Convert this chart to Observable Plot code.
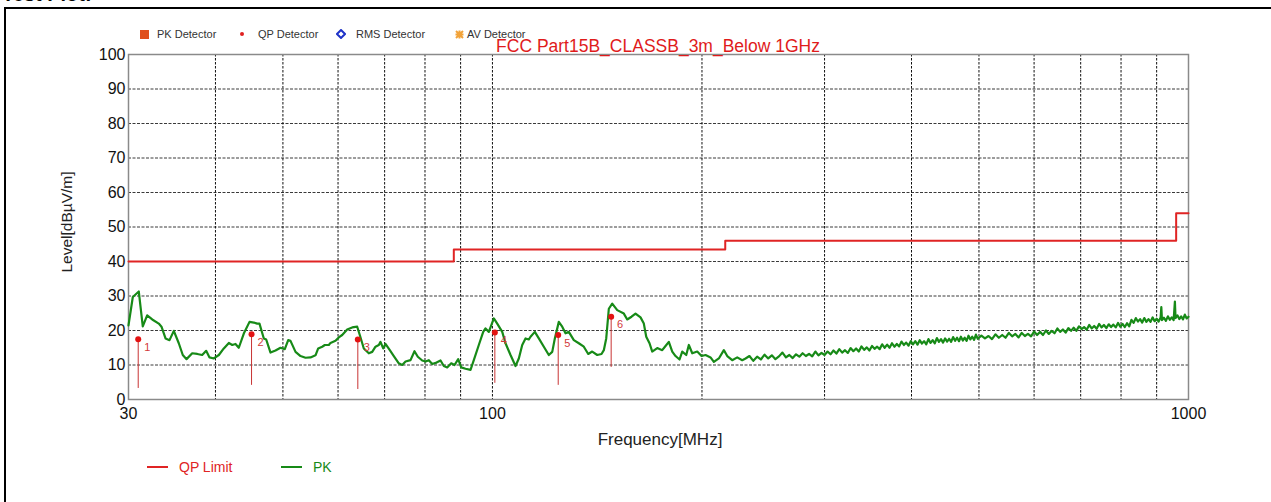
<!DOCTYPE html>
<html>
<head>
<meta charset="utf-8">
<script src="https://cdn.jsdelivr.net/npm/d3@7"></script>
<script src="https://cdn.jsdelivr.net/npm/@observablehq/plot@0.6"></script>
<style>
  html, body { margin: 0; padding: 0; background: #fff; }
  body { font-family: "Liberation Sans", Arial, sans-serif; }
  #wrap { position: relative; width: 1271px; height: 502px; overflow: hidden; }
  #frame { position: absolute; left: 4px; top: 7px; width: 1280px; height: 520px; border: 2px solid #000; box-sizing: border-box; }
  #testplot { position: absolute; left: 2px; top: -17px; font-size: 20px; font-weight: bold; color: #000; }
  #chart { position: absolute; left: 0; top: 0; }
  .ov { position: absolute; white-space: nowrap; }
  .leg { position: absolute; top: 27px; height: 14px; font-size: 11px; color: #333; display: flex; align-items: center; white-space: nowrap; }
  #title { left: 658px; top: 36px; font-size: 17.5px; color: #e01b1b; transform: translateX(-50%); }
  #ylabel { left: 67px; top: 222px; font-size: 15.5px; color: #222; transform: translate(-50%, -50%) rotate(-90deg); }
  #xlabel { left: 660px; top: 440px; font-size: 17px; color: #222; transform: translate(-50%, -50%); }
  .bleg { position: absolute; top: 459px; height: 16px; font-size: 14px; display: flex; align-items: center; white-space: nowrap; }
  .bleg .ln { display: inline-block; width: 21px; height: 2px; margin-right: 11px; }
</style>
</head>
<body>
<div id="wrap">
  <div id="testplot">Test Plot:</div>
  <div id="frame"></div>
  <div id="chart"></div>
  <div id="title" class="ov"></div>
  <div id="ylabel" class="ov"></div>
  <div id="xlabel" class="ov"></div>
</div>
<script>
// ---------- data ----------
const chartTitle = "FCC Part15B_CLASSB_3m_Below 1GHz";
const yAxisTitle = "Level[dBµV/m]";
const xAxisTitle = "Frequency[MHz]";
const detectorLegend = ["PK Detector", "QP Detector", "RMS Detector", "AV Detector"];
const seriesLegend = ["QP Limit", "PK"];

const yTicks = [0, 10, 20, 30, 40, 50, 60, 70, 80, 90, 100];
const xTickLabels = [30, 100, 1000];
const xGrid = [40, 50, 60, 70, 80, 90, 100, 200, 300, 400, 500, 600, 700, 800, 900];

// QP limit (step)
const limitFreq  = [30, 88, 216, 960, 1000];
const limitLevel = [40, 43.5, 46, 54, 54];

// QP measured markers
const markerId     = ["1", "2", "3", "4", "5", "6"];
const markerFreq   = [30.98, 45.07, 64.06, 100.8, 124.3, 148.1];
const markerLevel  = [17.5, 18.9, 17.4, 19.4, 18.7, 24.0];
const markerBottom = [3.2, 4.1, 2.9, 4.7, 4.1, 9.3];

// PK trace
const pkFreq = [
  30.0, 30.43, 31.04, 31.45, 31.91, 32.45, 33.16, 33.46, 33.91, 34.36,
  34.85, 35.43, 35.90, 36.35, 37.04, 37.66, 38.28, 38.79, 39.22, 39.78,
  40.45, 41.12, 41.81, 42.28, 42.74, 43.21, 43.93, 44.77, 45.41, 45.92,
  46.27, 46.94, 47.31, 47.99, 48.79, 49.60, 50.31, 50.88, 51.27, 52.13,
  53.00, 53.88, 54.78, 55.69, 56.19, 56.94, 57.43, 58.20, 58.52, 59.50,
  60.15, 60.83, 61.85, 62.88, 63.93, 64.48, 65.34, 66.43, 67.18, 67.92,
  68.67, 69.05, 69.67, 70.20, 71.21, 72.16, 73.36, 74.19, 75.01, 76.26,
  77.27, 78.12, 79.27, 80.14, 81.02, 81.93, 83.11, 84.22, 85.14, 86.10,
  87.25, 88.21, 89.29, 90.18, 91.48, 93.00, 94.02, 95.59, 96.99, 97.73,
  98.81, 100.46, 101.59, 103.29, 104.42, 106.16, 107.93, 109.12, 110.35, 111.56,
  112.79, 113.42, 115.05, 116.58, 118.53, 120.50, 121.87, 122.92, 124.55, 125.96,
  127.34, 128.74, 130.89, 133.07, 135.29, 137.28, 139.10, 141.43, 143.45, 144.55,
  145.70, 146.96, 148.62, 151.10, 154.44, 156.18, 158.42, 160.53, 163.21, 165.00,
  166.32, 168.14, 169.65, 172.48, 175.36, 177.28, 179.23, 181.26, 183.25, 185.69,
  187.35, 189.85, 191.49, 193.66, 196.89, 199.71, 202.37, 205.74, 208.00, 211.47,
  215.00, 217.43, 221.05, 224.74, 228.49, 231.00,
  234, 237, 240, 243, 246, 249, 252, 255, 258, 261,
  264, 267, 270, 273, 276, 279, 282, 285, 288, 291,
  294, 297, 300,
  303, 306, 309, 312, 315, 318, 321, 324, 327, 330,
  333, 336, 339, 342, 345, 348, 351, 354, 357, 360,
  363, 366, 369, 372, 375, 378, 381, 384, 387, 390,
  393, 396, 399, 402, 405, 408, 411, 414, 417, 420,
  423, 426, 429, 432, 435, 438, 441, 444, 447, 450,
  453, 456, 459, 462, 465, 468, 471, 474, 477, 480,
  483, 486, 489, 492, 495, 498,
  504, 510, 516, 522, 528, 534, 540, 546, 552, 558,
  564, 570, 576, 582, 588, 594, 600, 606, 612, 618,
  624, 630, 636, 642, 648, 654, 660, 666, 672, 678,
  684, 690, 696, 702, 708, 714, 720, 726, 732, 738,
  744, 750, 756, 762, 768, 774, 780, 786, 792, 798,
  804, 810, 816, 822, 828, 834, 840, 846, 852, 858,
  864, 870, 876, 882, 888, 894, 900, 906, 912, 914,
  916, 922, 928, 934, 940, 946, 952, 956, 958, 964,
  970, 976, 982, 988, 994, 1000
];
const pkLevel = [
  21.5, 29.7, 31.3, 21.2, 24.4, 23.2, 22.0, 21.1, 17.7, 17.2,
  19.9, 16.3, 12.9, 11.7, 13.4, 13.2, 12.9, 14.1, 12.2, 11.9,
  12.9, 14.8, 16.4, 15.8, 16.1, 15.0, 19.1, 22.5, 22.3, 22.0,
  22.0, 17.7, 17.4, 13.6, 14.2, 15.0, 14.6, 17.2, 17.0, 13.8,
  12.6, 12.1, 12.2, 12.8, 14.8, 15.3, 15.8, 15.8, 16.4, 17.0,
  18.0, 18.7, 20.3, 20.9, 21.1, 18.7, 14.8, 13.4, 13.8, 15.3,
  15.8, 16.7, 14.8, 16.1, 14.3, 12.6, 10.5, 10.0, 11.0, 11.4,
  14.0, 12.4, 11.3, 11.0, 11.4, 10.3, 10.7, 11.3, 9.7, 9.3,
  10.5, 10.0, 11.7, 9.3, 8.9, 8.6, 11.4, 15.8, 19.6, 20.6,
  19.6, 23.5, 22.0, 19.6, 16.3, 12.9, 9.7, 11.9, 15.8, 17.7,
  17.4, 18.2, 19.6, 17.7, 15.3, 12.9, 13.8, 17.7, 22.5, 21.1,
  19.2, 19.6, 17.2, 16.3, 15.3, 13.2, 13.9, 12.9, 13.2, 14.3,
  17.7, 26.3, 27.8, 25.9, 24.9, 23.2, 24.0, 24.9, 23.8, 22.0,
  18.2, 16.3, 13.9, 14.9, 14.3, 15.5, 16.7, 13.9, 12.6, 11.6,
  13.9, 12.9, 15.8, 13.4, 13.9, 12.6, 12.9, 12.2, 10.9, 11.9,
  14.3, 12.6, 11.4, 12.2, 11.4, 11.9,
  12.6, 11.2, 12.4, 11.6, 13.0, 11.9, 12.8, 11.7, 12.5, 13.6,
  12.2, 12.9, 12.0, 13.1, 12.4, 13.4, 12.6, 13.2, 12.5, 13.9,
  12.8, 13.5, 12.9,
  13.9, 13.1, 14.2, 13.3, 14.6, 13.6, 14.3, 13.5, 14.9, 14.0,
  14.8, 13.9, 15.4, 14.4, 15.1, 14.2, 15.5, 14.7, 15.3, 14.6,
  16.0, 15.0, 15.9, 15.0, 16.3, 15.3, 16.1, 15.4, 16.8, 15.8,
  16.5, 15.6, 16.9, 16.0, 16.9, 15.9, 17.2, 16.2, 16.9, 16.0,
  17.5, 16.4, 17.2, 16.3, 17.8, 16.7, 17.5, 16.5, 17.7, 16.8,
  17.6, 16.7, 18.1, 17.0, 17.9, 16.9, 18.2, 17.1, 17.9, 17.0,
  18.5, 17.4, 18.2, 17.3, 18.8, 17.6,
  18.5, 17.7, 18.4, 17.5, 18.9, 17.9, 18.7, 17.9, 19.3, 18.3,
  19.0, 18.0, 19.3, 18.4, 19.0, 18.3, 19.7, 18.7, 19.6, 18.7,
  20.0, 19.0, 19.9, 19.2, 20.6, 19.6, 20.3, 19.4, 20.7, 19.9,
  20.8, 19.9, 21.2, 20.4, 21.0, 20.2, 21.6, 20.6, 21.3, 20.5,
  21.9, 20.9, 21.6, 20.7, 21.8, 21.0, 21.7, 20.9, 22.2, 21.1,
  21.9, 21.0, 22.1, 21.2, 23.1, 22.2, 23.6, 22.6, 23.3, 22.3,
  23.6, 22.5, 23.3, 22.5, 23.8, 22.7, 23.4, 22.6, 23.8, 26.8,
  23.0, 23.7, 22.8, 24.1, 23.1, 23.8, 23.0, 28.4, 23.6, 24.4,
  23.3, 24.1, 23.2, 24.6, 23.5, 24.0
];

// ---------- colours ----------
const limitColor = "#e02424";
const pkColor = "#178a17";
const markerColor = "#e31212";
const stemColor = "#c83434";

// ---------- build tables ----------
const limitData = limitFreq.map((f, i) => ({f, v: limitLevel[i]}));
const pkData = pkFreq.map((f, i) => ({f, v: pkLevel[i]}));
const markers = markerId.map((id, i) => ({id, f: markerFreq[i], v: markerLevel[i], b: markerBottom[i]}));

const chart = Plot.plot({
  width: 1271,
  height: 502,
  marginLeft: 128,
  marginRight: 83,
  marginTop: 54,
  marginBottom: 103,
  style: {fontFamily: '"Liberation Sans", Arial, sans-serif', background: "transparent", color: "#111"},
  x: {type: "log", domain: [30, 1000]},
  y: {domain: [0, 100]},
  marks: [
    Plot.ruleY(yTicks.filter(d => d > 0 && d < 100), {stroke: "#3a3a3a", strokeOpacity: 1, strokeWidth: 1, strokeDasharray: "3,1.5"}),
    Plot.ruleX(xGrid, {stroke: "#111", strokeOpacity: 1, strokeWidth: 1, strokeDasharray: "2.5,1.5"}),
    Plot.frame({stroke: "#8a8a8a", strokeWidth: 1.5}),
    Plot.axisY({ticks: yTicks, tickSize: 0, tickPadding: 3, fontSize: 16, label: null, tickFormat: d => String(d)}),
    Plot.axisX({ticks: xTickLabels, tickSize: 0, tickPadding: 8, fontSize: 16, label: null, tickFormat: d => String(d)}),
    Plot.line(limitData, {x: "f", y: "v", curve: "step-after", stroke: limitColor, strokeWidth: 2}),
    Plot.line(pkData, {x: "f", y: "v", stroke: pkColor, strokeWidth: 2.2, strokeLinejoin: "round"}),
    Plot.ruleX(markers, {x: "f", y1: "b", y2: "v", stroke: stemColor, strokeWidth: 1}),
    Plot.dot(markers, {x: "f", y: "v", r: 3, fill: markerColor, stroke: "none"}),
    Plot.text(markers, {x: "f", y: "v", text: "id", dx: 9, dy: 8, fill: "#d23a3a", fontSize: 11})
  ]
});
document.getElementById("chart").appendChild(chart);

// ---------- overlays ----------
const wrap = document.getElementById("wrap");
document.getElementById("title").textContent = chartTitle;
document.getElementById("ylabel").textContent = yAxisTitle;
document.getElementById("xlabel").textContent = xAxisTitle;

const symbols = [
  '<svg width="9" height="9"><rect width="9" height="9" fill="#e0501c"/></svg>',
  '<svg width="8" height="8"><circle cx="4" cy="4" r="2" fill="#e02020"/></svg>',
  '<svg width="10" height="10"><path d="M5 1 L9 5 L5 9 L1 5 Z" fill="none" stroke="#1f33c8" stroke-width="2"/></svg>',
  '<svg width="9" height="9"><path d="M1 1 L8 8 M8 1 L1 8 M4.5 0.5 L4.5 8.5 M0.5 4.5 L8.5 4.5" stroke="#f2a33a" stroke-width="2"/></svg>'
];
const legLeft = [140, 238, 336, 455];
const legGap = [8, 12, 10, 3];
detectorLegend.forEach((t, i) => {
  const d = document.createElement("div");
  d.className = "leg";
  d.style.left = legLeft[i] + "px";
  d.innerHTML = `<span style="display:inline-flex;margin-right:${legGap[i]}px">${symbols[i]}</span>${t}`;
  wrap.appendChild(d);
});

const legColors = [limitColor, pkColor];
const bLeft = [147, 281];
seriesLegend.forEach((t, i) => {
  const d = document.createElement("div");
  d.className = "bleg";
  d.style.left = bLeft[i] + "px";
  d.style.color = legColors[i];
  d.innerHTML = `<span class="ln" style="background:${legColors[i]}"></span>${t}`;
  wrap.appendChild(d);
});
</script>
</body>
</html>
